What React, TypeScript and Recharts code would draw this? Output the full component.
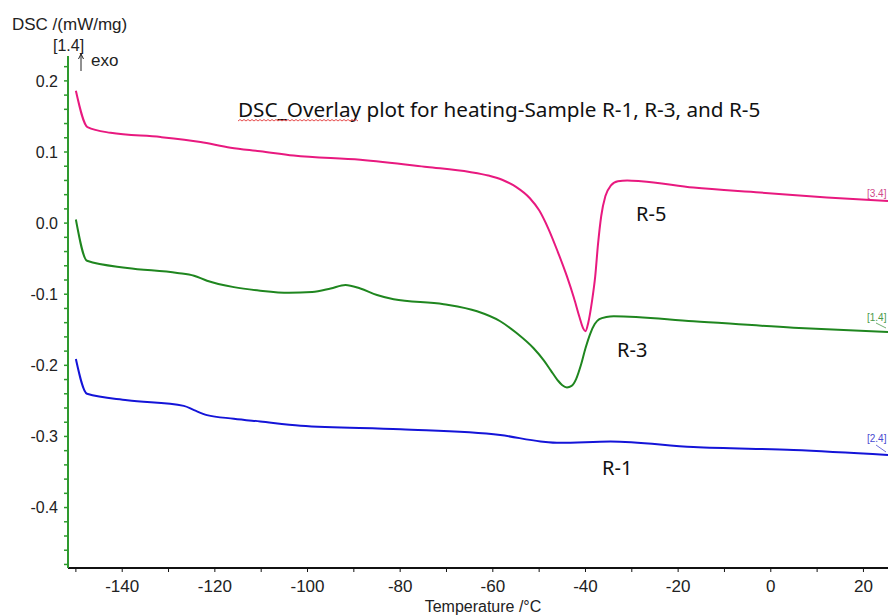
import React from 'react';
import { LineChart, Line, XAxis, YAxis } from 'recharts';

// R-5 (pink)
const r5Temp = [-150.0, -147.5, -142.5, -131.7, -123.1, -116.6, -110.2, -103.0, -88.6, -74.2, -65.0, -61.0, -58.0, -55.0, -52.0, -50.0, -48.0, -46.0, -44.0, -42.5, -41.3, -40.5, -40.0, -39.4, -38.6, -37.9, -37.3, -36.6, -35.7, -34.5, -33.0, -31.0, -28.0, -16.7, -2.3, 12.1, 25.3];
const r5Dsc = [0.186, 0.135, 0.127, 0.121, 0.114, 0.106, 0.101, 0.095, 0.089, 0.079, 0.072, 0.067, 0.061, 0.051, 0.035, 0.018, -0.008, -0.040, -0.075, -0.105, -0.132, -0.148, -0.152, -0.140, -0.110, -0.075, -0.030, 0.010, 0.038, 0.053, 0.059, 0.060, 0.059, 0.050, 0.043, 0.036, 0.031];

// R-3 (green)
const r3Temp = [-150.0, -147.6, -138.9, -128.1, -124.5, -121.7, -115.9, -110.2, -104.0, -99.0, -95.0, -91.8, -88.6, -85.0, -81.4, -70.6, -63.4, -58.4, -54.8, -51.2, -49.0, -47.5, -46.0, -45.0, -44.0, -43.0, -42.0, -41.0, -40.0, -39.0, -38.0, -37.0, -35.5, -33.9, -16.7, 4.9, 25.3];
const r3Dsc = [0.005, -0.053, -0.063, -0.070, -0.074, -0.081, -0.090, -0.095, -0.098, -0.097, -0.092, -0.087, -0.092, -0.101, -0.107, -0.114, -0.124, -0.138, -0.155, -0.176, -0.193, -0.207, -0.221, -0.228, -0.231, -0.229, -0.219, -0.200, -0.176, -0.156, -0.142, -0.135, -0.132, -0.131, -0.138, -0.147, -0.153];

// R-1 (blue)
const r1Temp = [-150.0, -147.6, -138.9, -126.7, -124.5, -121.7, -115.9, -110.2, -101.5, -79.9, -58.4, -49.7, -45.5, -34.6, -16.7, 4.9, 25.3];
const r1Dsc = [-0.191, -0.240, -0.249, -0.257, -0.263, -0.270, -0.275, -0.279, -0.285, -0.290, -0.298, -0.307, -0.309, -0.307, -0.315, -0.319, -0.326];

const xTicks = [-150, -140, -130, -120, -110, -100, -90, -80, -70, -60, -50, -40, -30, -20, -10, 0, 10, 20];
const yTicks = [-0.48, -0.46, -0.44, -0.42, -0.4, -0.38, -0.36, -0.34, -0.32, -0.3, -0.28, -0.26, -0.24, -0.22, -0.2, -0.18, -0.16, -0.14, -0.12, -0.1, -0.08, -0.06, -0.04, -0.02, 0, 0.02, 0.04, 0.06, 0.08, 0.1, 0.12, 0.14, 0.16, 0.18, 0.2, 0.22];

const toPoints = (t: number[], v: number[]) => t.map((x, i) => ({ temp: x, dsc: v[i] }));

const font = "'Liberation Sans', Arial, sans-serif";
const titleFont = "'Noto Sans', 'Open Sans', sans-serif";

function wavy(x0: number, x1: number, y: number) {
  let d = `M${x0},${y}`;
  let up = true;
  for (let x = x0 + 2; x <= x1; x += 2) {
    d += ` L${x},${up ? y - 1.5 : y}`;
    up = !up;
  }
  return d;
}

export default function App() {
  return (
    <div style={{ position: 'relative', width: 888, height: 616, background: '#fff' }}>
      <style>{`body{margin:0}`}</style>
      <LineChart width={888} height={616} margin={{ top: 56, right: 0, left: 0, bottom: 0 }}>
        <XAxis
          type="number"
          dataKey="temp"
          domain={[-151.7, 25.3]}
          allowDataOverflow
          ticks={xTicks}
          interval={0}
          tickFormatter={(v: number) => (v % 20 === 0 ? String(v) : '')}
          height={48}
          tickSize={4}
          tickMargin={8}
          axisLine={{ stroke: '#111', strokeWidth: 2 }}
          tickLine={{ stroke: '#111' }}
          tick={{ fill: '#222', fontSize: 17, fontFamily: font }}
        />
        <YAxis
          type="number"
          domain={[-0.485, 0.235]}
          allowDataOverflow
          ticks={yTicks}
          interval={0}
          tickFormatter={(v: number) => (Math.round(v * 100) % 10 === 0 ? v.toFixed(1) : '')}
          width={68}
          tickSize={4}
          tickMargin={6}
          axisLine={{ stroke: '#2e9a2e', strokeWidth: 2 }}
          tickLine={{ stroke: '#2e9a2e', strokeWidth: 1.5 }}
          tick={{ fill: '#222', fontSize: 16, fontFamily: font }}
        />
        <Line data={toPoints(r5Temp, r5Dsc)} dataKey="dsc" type="monotone" stroke="#e8197f" strokeWidth={2} dot={false} isAnimationActive={false} />
        <Line data={toPoints(r3Temp, r3Dsc)} dataKey="dsc" type="monotone" stroke="#1f861f" strokeWidth={2} dot={false} isAnimationActive={false} />
        <Line data={toPoints(r1Temp, r1Dsc)} dataKey="dsc" type="monotone" stroke="#1414d8" strokeWidth={2} dot={false} isAnimationActive={false} />
      </LineChart>
      <svg width={888} height={616} style={{ position: 'absolute', left: 0, top: 0, pointerEvents: 'none' }}>
        <text x={12} y={30} fontSize={17} fontFamily={font} fill="#222">DSC /(mW/mg)</text>
        <text x={53} y={51} fontSize={16} fontFamily={font} fill="#222">[1.4]</text>
        <line x1={81} y1={71} x2={81} y2={54} stroke="#222" strokeWidth={1} />
        <path d="M78.5,59 L81,54 L83.5,59" fill="none" stroke="#222" strokeWidth={1} />
        <text x={91} y={66} fontSize={17} fontFamily={font} fill="#222">exo</text>
        <text x={238} y={117} fontSize={20.7} fontFamily={titleFont} fill="#111">DSC_Overlay plot for heating-Sample R-1, R-3, and R-5</text>
        <path d={wavy(238, 358, 121)} fill="none" stroke="#e02020" strokeWidth={0.8} />
        <text x={636} y={221} fontSize={20} fontFamily={titleFont} fill="#111">R-5</text>
        <text x={617} y={357} fontSize={20} fontFamily={titleFont} fill="#111">R-3</text>
        <text x={602} y={475} fontSize={20} fontFamily={titleFont} fill="#111">R-1</text>
        <text x={867} y={197} fontSize={10} fontFamily={font} fill="#d04a8a">[3.4]</text>
        <text x={867} y={321} fontSize={10} fontFamily={font} fill="#4a9a4a">[1.4]</text>
        <line x1={876} y1={323} x2={886} y2={328} stroke="#4a9a4a" strokeWidth={0.8} />
        <text x={867} y={442} fontSize={10} fontFamily={font} fill="#4a4ad0">[2.4]</text>
        <line x1={876} y1={445} x2={886} y2={452} stroke="#4a4ad0" strokeWidth={0.8} />
        <text x={483} y={612} fontSize={16} fontFamily={font} fill="#222" textAnchor="middle">Temperature /°C</text>
      </svg>
    </div>
  );
}
